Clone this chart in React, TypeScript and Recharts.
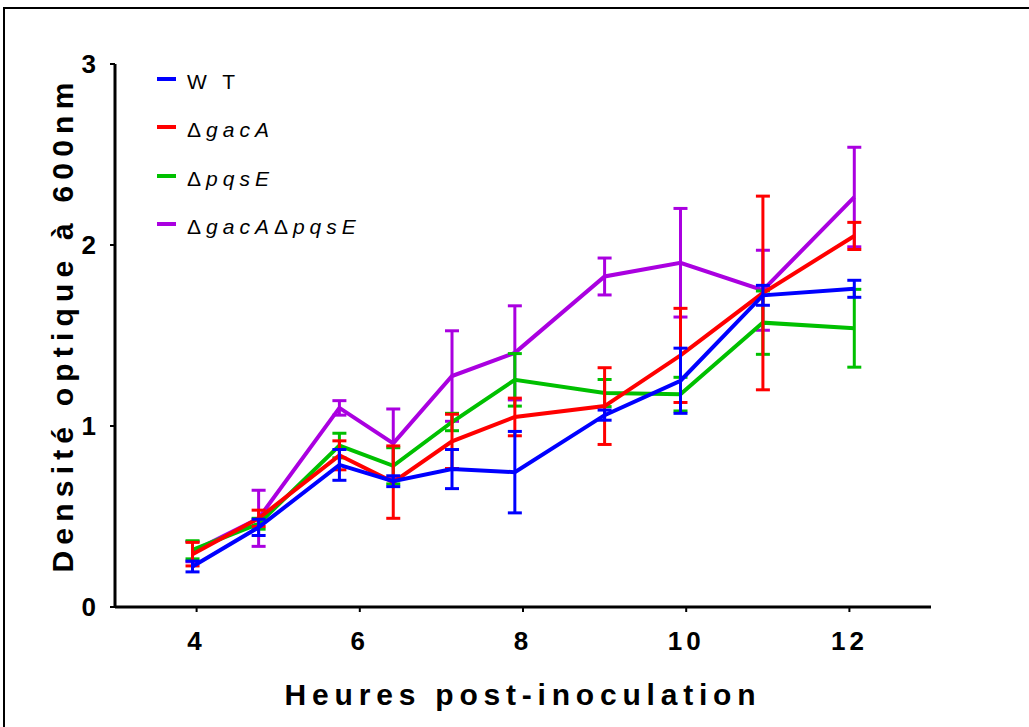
import React from 'react';
import { ErrorBar, Legend, Line, LineChart, XAxis, YAxis } from 'recharts';

// sampling times (h post-inoculation)
const hours = [3.95, 4.76, 5.75, 6.41, 7.13, 7.9, 9.0, 9.93, 10.94, 12.06];

// OD600 means and error (SEM) per strain
const wtMean = [0.224, 0.44, 0.785, 0.695, 0.762, 0.745, 1.06, 1.25, 1.722, 1.758];
const wtErr = [0.03, 0.045, 0.085, 0.03, 0.108, 0.225, 0.028, 0.18, 0.055, 0.047];
const gacAMean = [0.292, 0.49, 0.838, 0.69, 0.915, 1.05, 1.11, 1.39, 1.735, 2.05];
const gacAErr = [0.065, 0.045, 0.08, 0.2, 0.15, 0.104, 0.212, 0.26, 0.535, 0.075];
const pqsEMean = [0.316, 0.46, 0.892, 0.78, 1.022, 1.255, 1.182, 1.176, 1.571, 1.54];
const pqsEErr = [0.05, 0.03, 0.068, 0.1, 0.048, 0.145, 0.075, 0.093, 0.175, 0.215];
const doubleMean = [0.306, 0.49, 1.1, 0.904, 1.276, 1.404, 1.826, 1.902, 1.75, 2.265];
const doubleErr = [0.056, 0.155, 0.04, 0.19, 0.25, 0.26, 0.102, 0.3, 0.221, 0.275];

const xTicks = [4, 6, 8, 10, 12];
const yTicks = [0, 1, 2, 3];

const legendItems = [
  { name: 'W T', color: '#0000ff', italic: false },
  { name: 'ΔgacA', color: '#ff0000', italic: true },
  { name: 'ΔpqsE', color: '#00c000', italic: true },
  { name: 'ΔgacAΔpqsE', color: '#aa00e0', italic: true },
];

const data = hours.map((h, i) => ({
  h,
  wt: wtMean[i],
  wtErr: wtErr[i],
  gacA: gacAMean[i],
  gacAErr: gacAErr[i],
  pqsE: pqsEMean[i],
  pqsEErr: pqsEErr[i],
  dbl: doubleMean[i],
  dblErr: doubleErr[i],
}));

const FONT = '"Liberation Sans", Arial, Helvetica, sans-serif';

const tickStyle = { fill: '#000', fontFamily: FONT, fontSize: 26, fontWeight: 700, letterSpacing: 4 };
const titleStyle = { fill: '#000', fontFamily: FONT, fontSize: 30, fontWeight: 700, letterSpacing: 5.8 };

function XTitle({ viewBox }: any) {
  return (
    <text x={viewBox.x + viewBox.width / 2} y={viewBox.y + 98} textAnchor="middle" style={titleStyle}>
      Heures post-inoculation
    </text>
  );
}

function YTitle({ viewBox }: any) {
  const cx = viewBox.x + 62;
  const cy = viewBox.y + viewBox.height / 2 - 11;
  return (
    <text
      x={cx}
      y={cy}
      textAnchor="middle"
      dominantBaseline="central"
      transform={`rotate(-90 ${cx} ${cy})`}
      style={{ ...titleStyle, letterSpacing: 6.2 }}
    >
      Densité optique à 600nm
    </text>
  );
}

function LegendLabel({ name, italic }: { name: string; italic: boolean }) {
  if (!italic) return <span>{name}</span>;
  const parts = name.split(/(Δ)/).filter(Boolean);
  return (
    <span>
      {parts.map((p, i) => (p === 'Δ' ? <span key={i}>Δ</span> : <i key={i}>{p}</i>))}
    </span>
  );
}

function StrainLegend() {
  return (
    <div style={{ fontFamily: FONT, fontSize: 21, letterSpacing: 5, color: '#000' }}>
      {legendItems.map((item) => (
        <div key={item.name} style={{ display: 'flex', alignItems: 'center', height: 48.3 }}>
          <div style={{ width: 19, height: 4, background: item.color, marginRight: 11 }} />
          <div style={{ position: 'relative', top: 3, whiteSpace: 'nowrap' }}>
            <LegendLabel name={item.name} italic={item.italic} />
          </div>
        </div>
      ))}
    </div>
  );
}

export default function App() {
  return (
    <div style={{ position: 'absolute', left: 0, top: 0, width: 1029, height: 727, background: '#fff', overflow: 'hidden' }}>
      <div
        style={{
          position: 'absolute',
          left: 3,
          top: 7,
          width: 1100,
          height: 800,
          borderTop: '2px solid #000',
          borderLeft: '2px solid #000',
        }}
      />
      <LineChart width={1029} height={727} data={data} margin={{ top: 64, right: 98, bottom: 0, left: 0 }}>
        <XAxis
          dataKey="h"
          type="number"
          domain={[3, 13]}
          ticks={xTicks}
          allowDataOverflow
          height={120}
          axisLine={{ stroke: '#000', strokeWidth: 3 }}
          tickLine={{ stroke: '#000', strokeWidth: 2 }}
          tickSize={5}
          tickMargin={20}
          tick={tickStyle}
          label={{ content: XTitle }}
        />
        <YAxis
          type="number"
          domain={[0, 3]}
          ticks={yTicks}
          allowDataOverflow
          width={115}
          axisLine={{ stroke: '#000', strokeWidth: 3 }}
          tickLine={{ stroke: '#000', strokeWidth: 2 }}
          tickSize={5}
          tickMargin={10}
          tick={tickStyle}
          label={{ content: YTitle }}
        />
        <Legend
          layout="vertical"
          align="center"
          verticalAlign="middle"
          wrapperStyle={{ left: 157, top: 55, width: 300 }}
          content={() => <StrainLegend />}
        />
        <Line dataKey="dbl" stroke="#aa00e0" strokeWidth={4} dot={false} isAnimationActive={false}>
          <ErrorBar dataKey="dblErr" direction="y" width={7} stroke="#aa00e0" strokeWidth={3} isAnimationActive={false} />
        </Line>
        <Line dataKey="pqsE" stroke="#00c000" strokeWidth={4} dot={false} isAnimationActive={false}>
          <ErrorBar dataKey="pqsEErr" direction="y" width={7} stroke="#00c000" strokeWidth={3} isAnimationActive={false} />
        </Line>
        <Line dataKey="gacA" stroke="#ff0000" strokeWidth={4} dot={false} isAnimationActive={false}>
          <ErrorBar dataKey="gacAErr" direction="y" width={7} stroke="#ff0000" strokeWidth={3} isAnimationActive={false} />
        </Line>
        <Line dataKey="wt" stroke="#0000ff" strokeWidth={4} dot={false} isAnimationActive={false}>
          <ErrorBar dataKey="wtErr" direction="y" width={7} stroke="#0000ff" strokeWidth={3} isAnimationActive={false} />
        </Line>
      </LineChart>
    </div>
  );
}
